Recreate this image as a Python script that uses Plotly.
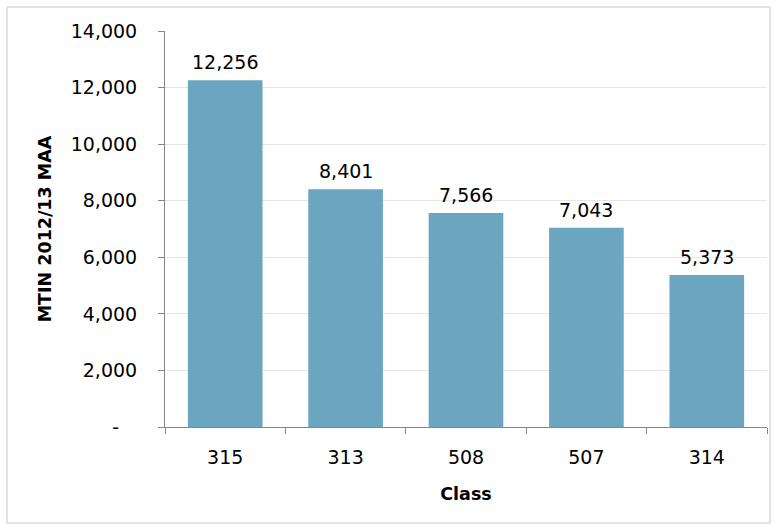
import plotly.graph_objects as go

classes = ["315", "313", "508", "507", "314"]
maa = [12256, 8401, 7566, 7043, 5373]
y_ticks = [0, 2000, 4000, 6000, 8000, 10000, 12000, 14000]
y_tick_text = ["-\u00a0\u00a0\u00a0", "2,000", "4,000", "6,000", "8,000", "10,000", "12,000", "14,000"]

W, H = 777, 524
ml, mr, mt, mb = 165, 10, 31, 97
font = "DejaVu Sans"

fig = go.Figure(go.Bar(x=classes, y=maa, marker=dict(color="#6BA5C0", line=dict(width=0)), width=0.62))

for i, v in enumerate(maa):
    fig.add_annotation(x=i, y=v, text=f"{v:,}", showarrow=False, yanchor="bottom", yshift=5,
                       font=dict(family=font, size=19, color="#000000"))

pw, ph = W - ml - mr, H - mt - mb
fig.add_shape(type="rect", xref="paper", yref="paper",
              x0=(7 - ml) / pw, x1=(770 - ml) / pw, y0=(H - 523 - mb) / ph, y1=(H - 7 - mb) / ph,
              line=dict(color="#C8C8C8", width=1), fillcolor="rgba(0,0,0,0)", layer="below")

fig.update_layout(
    width=W, height=H, margin=dict(l=ml, r=mr, t=mt, b=mb),
    paper_bgcolor="white", plot_bgcolor="white", showlegend=False,
    font=dict(family=font, size=19, color="#000000"),
    xaxis=dict(type="category", range=[-0.5, len(classes) - 0.5], tickson="boundaries", ticks="outside",
               ticklen=6, tickcolor="#868686", tickangle=0,
               showline=True, linecolor="#868686", linewidth=1, showgrid=False,
               ticklabelstandoff=13,
               title=dict(text="<b>Class</b>", font=dict(family=font, size=17.5), standoff=20)),
    yaxis=dict(range=[0, 14000], tickvals=y_ticks, ticktext=y_tick_text, ticks="outside", ticklen=6,
               tickcolor="#868686", showline=True, linecolor="#868686", linewidth=1,
               showgrid=True, gridcolor="#E6E6E6", gridwidth=1, zeroline=False,
               ticklabelstandoff=17,
               title=dict(text="\u00a0\u00a0\u00a0<b>MTIN 2012/13 MAA</b>", font=dict(family=font, size=17.5), standoff=14)),
)

fig.write_html("out.html")
